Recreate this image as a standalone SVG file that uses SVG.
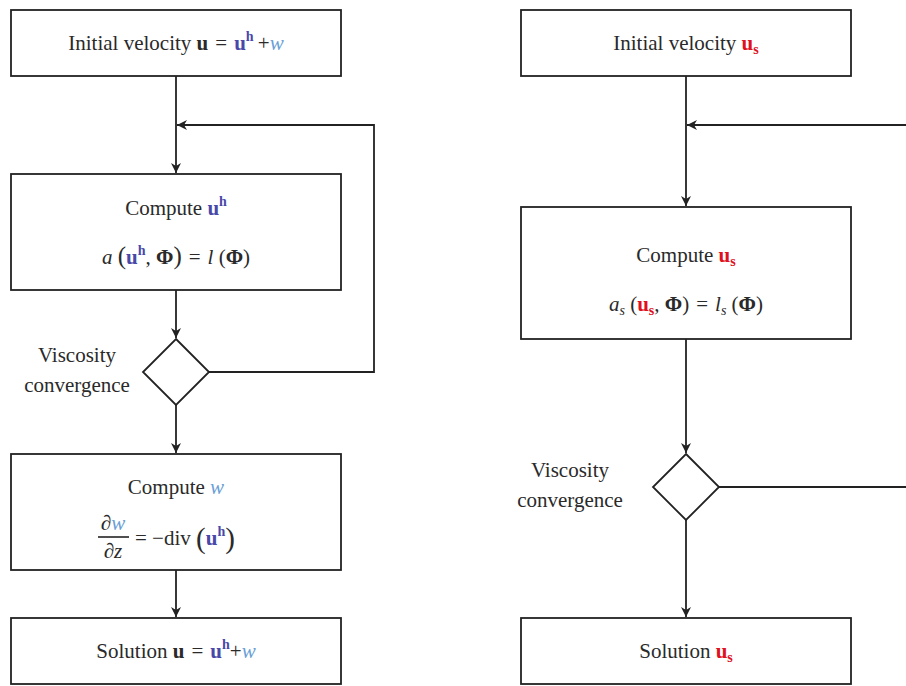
<svg xmlns="http://www.w3.org/2000/svg" width="906" height="686" viewBox="0 0 906 686">
<defs>
<marker id="ah" viewBox="0 0 10 10" refX="10" refY="5" markerWidth="10" markerHeight="10" markerUnits="userSpaceOnUse" orient="auto">
<path d="M0,0 L10,5 L0,10 L3,5 Z" fill="#222"/>
</marker>
</defs>
<style>
.box{fill:#fff;stroke:#222;stroke-width:1.8}
.dia{fill:#fff;stroke:#222;stroke-width:1.8}
.ln{fill:none;stroke:#222;stroke-width:1.8}
.ar{fill:none;stroke:#222;stroke-width:1.8;marker-end:url(#ah)}
text{font-family:"Liberation Serif","DejaVu Serif",serif;font-size:21px;fill:#2a2a2a}
.b{font-weight:bold}
.i{font-style:italic}
.bl{fill:#4848a8;font-weight:bold}
.lb{fill:#6b9fd6;font-style:italic}
.rd{fill:#e01020;font-weight:bold}
.sup{font-size:14px}
</style>
<g id="connectors">
<line class="ar" x1="176" y1="76" x2="176" y2="173"/>
<polyline class="ar" points="209,372 374,372 374,125 177,125"/>
<line class="ar" x1="176" y1="290" x2="176" y2="338"/>
<line class="ar" x1="176" y1="405" x2="176" y2="453"/>
<line class="ar" x1="176" y1="570" x2="176" y2="617"/>
<line class="ar" x1="686" y1="76" x2="686" y2="206"/>
<line class="ar" x1="906" y1="125" x2="687" y2="125"/>
<line class="ar" x1="686" y1="339" x2="686" y2="453"/>
<line class="ln" x1="719" y1="487" x2="906" y2="487"/>
<line class="ar" x1="686" y1="520" x2="686" y2="617"/>
</g>
<g id="l_init">
<rect class="box" x="11" y="10" width="330" height="66"/>
<text x="176" y="50" text-anchor="middle">Initial velocity <tspan class="b">u</tspan>&#8196;=&#8196;<tspan class="bl">u</tspan><tspan class="bl sup" dy="-9">h</tspan><tspan dy="9">&#8201;+</tspan><tspan class="lb">w</tspan></text>
</g>
<g id="l_compute_uh">
<rect class="box" x="11" y="174" width="330" height="116"/>
<text x="176" y="215" text-anchor="middle">Compute <tspan class="bl">u</tspan><tspan class="bl sup" dy="-9">h</tspan></text>
<text x="176" y="264" text-anchor="middle"><tspan class="i">a</tspan> <tspan font-size="25">(</tspan><tspan class="bl">u</tspan><tspan class="bl sup" dy="-9">h</tspan><tspan dy="9">, </tspan><tspan class="b">Φ</tspan><tspan font-size="25">)</tspan>&#8196;=&#8196;<tspan class="i">l</tspan> (<tspan class="b">Φ</tspan>)</text>
</g>
<g id="l_visc">
<polygon class="dia" points="176,339 209,372 176,405 143,372"/>
<text x="77" y="362" text-anchor="middle">Viscosity</text>
<text x="77" y="392" text-anchor="middle">convergence</text>
</g>
<g id="l_compute_w">
<rect class="box" x="11" y="454" width="330" height="116"/>
<text x="176" y="494" text-anchor="middle">Compute <tspan class="lb">w</tspan></text>
<text x="113" y="530" text-anchor="middle">∂<tspan class="lb">w</tspan></text>
<line x1="98" y1="537" x2="129" y2="537" stroke="#222" stroke-width="1.6"/>
<text x="113" y="558" text-anchor="middle">∂<tspan class="i">z</tspan></text>
<text x="135" y="545">= −div <tspan font-size="29" dy="3">(</tspan><tspan class="bl" dy="-3">u</tspan><tspan class="bl sup" dy="-9">h</tspan><tspan font-size="29" dy="12">)</tspan></text>
</g>
<g id="l_solution">
<rect class="box" x="11" y="618" width="330" height="66"/>
<text x="176" y="658" text-anchor="middle">Solution <tspan class="b">u</tspan>&#8196;=&#8196;<tspan class="bl">u</tspan><tspan class="bl sup" dy="-9">h</tspan><tspan dy="9">+</tspan><tspan class="lb">w</tspan></text>
</g>
<g id="r_init">
<rect class="box" x="521" y="10" width="330" height="66"/>
<text x="686" y="50" text-anchor="middle">Initial velocity <tspan class="rd">u</tspan><tspan class="rd sup" dy="4">s</tspan></text>
</g>
<g id="r_compute_us">
<rect class="box" x="521" y="207" width="330" height="132"/>
<text x="686" y="262" text-anchor="middle">Compute <tspan class="rd">u</tspan><tspan class="rd sup" dy="4">s</tspan></text>
<text x="686" y="311" text-anchor="middle"><tspan class="i">a</tspan><tspan class="i sup" dy="4">s</tspan><tspan dy="-4"> (</tspan><tspan class="rd">u</tspan><tspan class="rd sup" dy="4">s</tspan><tspan dy="-4">, </tspan><tspan class="b">Φ</tspan>)&#8196;=&#8196;<tspan class="i">l</tspan><tspan class="i sup" dy="4">s</tspan><tspan dy="-4"> (</tspan><tspan class="b">Φ</tspan>)</text>
</g>
<g id="r_visc">
<polygon class="dia" points="686,454 719,487 686,520 653,487"/>
<text x="570" y="477" text-anchor="middle">Viscosity</text>
<text x="570" y="507" text-anchor="middle">convergence</text>
</g>
<g id="r_solution">
<rect class="box" x="521" y="618" width="330" height="66"/>
<text x="686" y="658" text-anchor="middle">Solution <tspan class="rd">u</tspan><tspan class="rd sup" dy="4">s</tspan></text>
</g>
</svg>
